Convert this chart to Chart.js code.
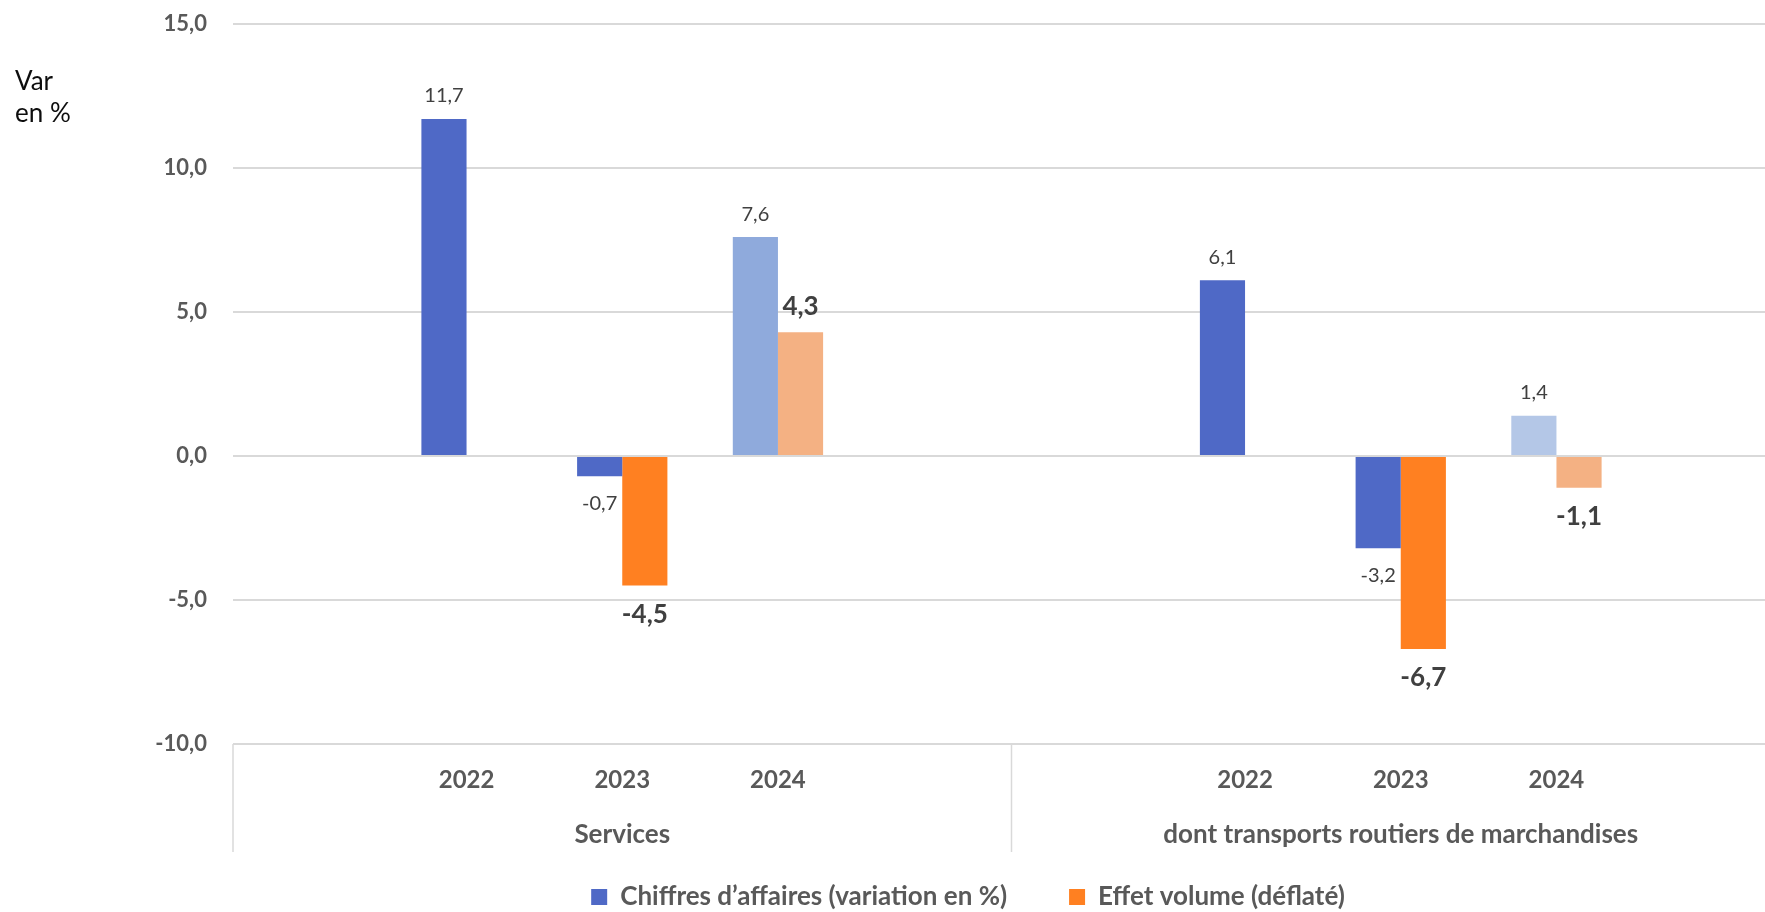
<!DOCTYPE html>
<html lang="fr">
<head>
<meta charset="UTF-8">
<title>Chiffres d'affaires et effet volume</title>
<script src="https://cdn.jsdelivr.net/npm/chart.js"></script>
<style>
  html, body { margin: 0; padding: 0; background: #fff; overflow: hidden; }
  #chart { display: block; }
</style>
</head>
<body>
<canvas id="chart" width="1790" height="950"></canvas>
<script>
// data
const groups = ['Services', 'dont transports routiers de marchandises'];
const years = ['2022', '2023', '2024'];
const caServices = [11.7, -0.7, 7.6];
const caTransports = [6.1, -3.2, 1.4];
const volServices = [null, -4.5, 4.3];
const volTransports = [null, -6.7, -1.1];
const yTicks = [-10, -5, 0, 5, 10, 15];
const seriesNames = ['Chiffres d’affaires (variation en %)', 'Effet volume (déflaté)'];

const BLUE = '#4F69C6';
const ORANGE = '#FF8021';
const blueLast = ['#8FAADC', '#B4C7E7'];
const orangeLast = ['#F4B183', '#F4B183'];
const GREY = '#595959';

// each group gets an empty slot before and after its years
const caByGroup = [caServices, caTransports];
const volByGroup = [volServices, volTransports];
const xLabels = [], ca = [], vol = [], caColors = [], volColors = [];
groups.forEach((g, gi) => {
  xLabels.push(''); ca.push(null); vol.push(null); caColors.push(BLUE); volColors.push(ORANGE);
  years.forEach((y, yi) => {
    const last = yi === years.length - 1;
    xLabels.push(y);
    ca.push(caByGroup[gi][yi]);
    vol.push(volByGroup[gi][yi]);
    caColors.push(last ? blueLast[gi] : BLUE);
    volColors.push(last ? orangeLast[gi] : ORANGE);
  });
  xLabels.push(''); ca.push(null); vol.push(null); caColors.push(BLUE); volColors.push(ORANGE);
});

const fmt = v => v.toFixed(1).replace('.', ',');

Chart.defaults.font.family = 'Lato';

// value labels, group labels, separators and the axis caption
const extras = {
  id: 'extras',
  afterLayout(chart) {
    // wide gap between legend items, but keep the legend right under the axis
    const lg = chart.legend;
    const dx = 968 - (lg.left + lg.right) / 2;
    lg.left += dx;
    lg.right += dx;
    lg.top -= 30;
    lg.bottom -= 30;
  },
  afterDatasetsDraw(chart) {
    const ctx = chart.ctx;
    ctx.save();
    ctx.textAlign = 'center';
    ctx.textBaseline = 'middle';
    ctx.fillStyle = '#404040';
    chart.data.datasets.forEach((ds, di) => {
      const meta = chart.getDatasetMeta(di);
      meta.data.forEach((bar, i) => {
        const v = ds.data[i];
        if (v === null) return;
        if (di === 0) {
          ctx.font = '20px Lato';
          ctx.fillText(fmt(v), bar.x, v >= 0 ? bar.y - 23 : bar.y + 27);
        } else {
          ctx.font = 'bold 26px Lato';
          ctx.fillText(fmt(v), bar.x, v >= 0 ? bar.y - 26 : bar.y + 29);
        }
      });
    });
    ctx.restore();
  },
  afterDraw(chart) {
    const ctx = chart.ctx;
    const x = chart.scales.x;
    const bottom = chart.chartArea.bottom;
    const per = years.length + 2;
    ctx.save();
    ctx.strokeStyle = '#D9D9D9';
    ctx.lineWidth = 1.5;
    ctx.fillStyle = GREY;
    ctx.font = 'bold 26px Lato';
    ctx.textAlign = 'center';
    ctx.textBaseline = 'middle';
    groups.forEach((g, gi) => {
      const start = gi * per, end = start + per - 1;
      const step = x.getPixelForValue(1) - x.getPixelForValue(0);
      const edge = x.getPixelForValue(start) - step / 2;
      ctx.beginPath();
      ctx.moveTo(edge, bottom);
      ctx.lineTo(edge, bottom + 108);
      ctx.stroke();
      const mid = (x.getPixelForValue(start) + x.getPixelForValue(end)) / 2;
      ctx.fillText(g, mid, bottom + 91);
    });
    ctx.fillStyle = '#0D0D0D';
    ctx.font = '26px Lato';
    ctx.textAlign = 'left';
    ctx.textBaseline = 'alphabetic';
    ctx.fillText('Var', 15, 90);
    ctx.fillText('en %', 15, 122);
    ctx.restore();
  }
};

new Chart(document.getElementById('chart'), {
  type: 'bar',
  data: {
    labels: xLabels,
    datasets: [
      { label: seriesNames[0], data: ca, backgroundColor: caColors, borderWidth: 0,
        categoryPercentage: 0.58, barPercentage: 1 },
      { label: seriesNames[1], data: vol, backgroundColor: volColors, borderWidth: 0,
        categoryPercentage: 0.58, barPercentage: 1 }
    ]
  },
  options: {
    responsive: false,
    animation: false,
    layout: { padding: { top: 24, left: 0, right: 0, bottom: 0 } },
    plugins: {
      legend: {
        position: 'bottom',
        labels: {
          color: GREY,
          font: { size: 26, weight: 'bold' },
          boxWidth: 16,
          boxHeight: 16,
          padding: 62
        }
      },
      tooltip: { enabled: false }
    },
    scales: {
      x: {
        grid: { display: false },
        border: { display: false },
        ticks: { color: GREY, font: { size: 24, weight: 'bold' }, padding: 14, maxRotation: 0, autoSkip: false },
        afterFit: s => { s.height = 108; }
      },
      y: {
        min: -10,
        max: 15,
        afterBuildTicks: s => { s.ticks = yTicks.map(v => ({ value: v })); },
        grid: { color: '#D9D9D9', lineWidth: 2, drawTicks: false },
        border: { display: false },
        ticks: { color: GREY, font: { size: 22, weight: 'bold' }, padding: 26, callback: v => fmt(v) },
        afterFit: s => { s.width = 233; s.paddingTop = 0; s.paddingBottom = 0; }
      }
    }
  },
  plugins: [extras]
});
</script>
</body>
</html>
